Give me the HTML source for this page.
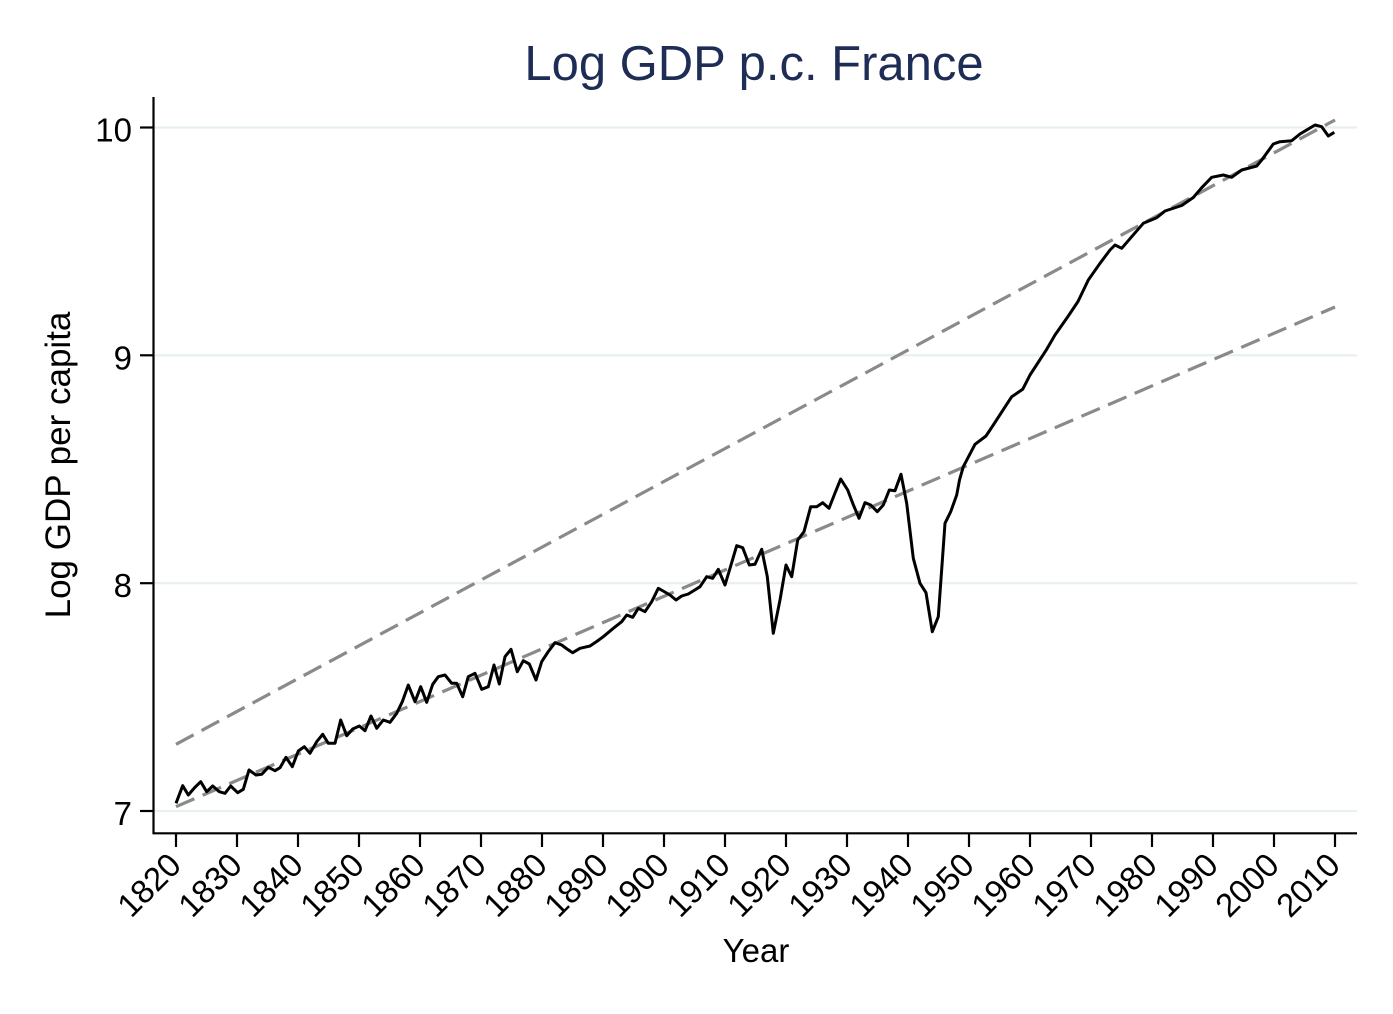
<!DOCTYPE html>
<html>
<head>
<meta charset="utf-8">
<style>
html,body{margin:0;padding:0;background:#fff;}
svg{display:block;}
text{font-family:"Liberation Sans",Arial,Helvetica,sans-serif;}
</style>
</head>
<body>
<svg width="1393" height="1014" viewBox="0 0 1393 1014" xmlns="http://www.w3.org/2000/svg">
<rect x="0" y="0" width="1393" height="1014" fill="#ffffff"/>
<!-- title -->
<text x="754" y="80" font-size="49" fill="#1e2d55" text-anchor="middle">Log GDP p.c. France</text>
<!-- gridlines -->
<g stroke="#e8efef" stroke-width="2.2">
<line x1="154" y1="127.5" x2="1357" y2="127.5"/>
<line x1="154" y1="355.3" x2="1357" y2="355.3"/>
<line x1="154" y1="583.2" x2="1357" y2="583.2"/>
<line x1="154" y1="811" x2="1357" y2="811"/>
</g>
<!-- axes -->
<g stroke="#000" stroke-width="2.2">
<line x1="153.5" y1="97" x2="153.5" y2="834"/>
<line x1="152.5" y1="833.3" x2="1357" y2="833.3"/>
<line x1="140" y1="127.5" x2="153.5" y2="127.5"/>
<line x1="140" y1="355.3" x2="153.5" y2="355.3"/>
<line x1="140" y1="583.2" x2="153.5" y2="583.2"/>
<line x1="140" y1="811" x2="153.5" y2="811"/>
</g>
<g stroke="#000" stroke-width="2.2">
<line x1="176" y1="833" x2="176" y2="847"/>
<line x1="237" y1="833" x2="237" y2="847"/>
<line x1="298" y1="833" x2="298" y2="847"/>
<line x1="359" y1="833" x2="359" y2="847"/>
<line x1="420" y1="833" x2="420" y2="847"/>
<line x1="481" y1="833" x2="481" y2="847"/>
<line x1="542" y1="833" x2="542" y2="847"/>
<line x1="603" y1="833" x2="603" y2="847"/>
<line x1="664" y1="833" x2="664" y2="847"/>
<line x1="725" y1="833" x2="725" y2="847"/>
<line x1="786" y1="833" x2="786" y2="847"/>
<line x1="847" y1="833" x2="847" y2="847"/>
<line x1="908" y1="833" x2="908" y2="847"/>
<line x1="969" y1="833" x2="969" y2="847"/>
<line x1="1030" y1="833" x2="1030" y2="847"/>
<line x1="1091" y1="833" x2="1091" y2="847"/>
<line x1="1152" y1="833" x2="1152" y2="847"/>
<line x1="1213" y1="833" x2="1213" y2="847"/>
<line x1="1274" y1="833" x2="1274" y2="847"/>
<line x1="1335" y1="833" x2="1335" y2="847"/>
</g>
<!-- y tick labels -->
<g font-size="33" fill="#000" text-anchor="end">
<text x="132" y="141.5">10</text>
<text x="132" y="369.5">9</text>
<text x="132" y="597">8</text>
<text x="132" y="825">7</text>
</g>
<!-- x tick labels -->
<g font-size="33" fill="#000" text-anchor="end">
<text transform="translate(183,867) rotate(-45)">1820</text>
<text transform="translate(244,867) rotate(-45)">1830</text>
<text transform="translate(305,867) rotate(-45)">1840</text>
<text transform="translate(366,867) rotate(-45)">1850</text>
<text transform="translate(427,867) rotate(-45)">1860</text>
<text transform="translate(488,867) rotate(-45)">1870</text>
<text transform="translate(549,867) rotate(-45)">1880</text>
<text transform="translate(610,867) rotate(-45)">1890</text>
<text transform="translate(671,867) rotate(-45)">1900</text>
<text transform="translate(732,867) rotate(-45)">1910</text>
<text transform="translate(793,867) rotate(-45)">1920</text>
<text transform="translate(854,867) rotate(-45)">1930</text>
<text transform="translate(915,867) rotate(-45)">1940</text>
<text transform="translate(976,867) rotate(-45)">1950</text>
<text transform="translate(1037,867) rotate(-45)">1960</text>
<text transform="translate(1098,867) rotate(-45)">1970</text>
<text transform="translate(1159,867) rotate(-45)">1980</text>
<text transform="translate(1220,867) rotate(-45)">1990</text>
<text transform="translate(1281,867) rotate(-45)">2000</text>
<text transform="translate(1342,867) rotate(-45)">2010</text>
</g>
<!-- axis titles -->
<text x="756" y="962" font-size="33" fill="#000" text-anchor="middle">Year</text>
<text transform="translate(70,465) rotate(-90)" font-size="35" fill="#000" text-anchor="middle">Log GDP per capita</text>
<!-- trend lines -->
<g stroke="#8a8a8a" stroke-width="3.2" stroke-dasharray="20 9" fill="none">
<line x1="176" y1="744.3" x2="1335" y2="120"/>
<line x1="176" y1="806.7" x2="1335" y2="307"/>
</g>
<!-- data -->
<polyline fill="none" stroke="#000" stroke-width="3" stroke-linejoin="round" points="
176,803.3 182.7,785.7 188.3,795 194.3,788 200.7,781.7 206.7,791.7 212.7,786 219.3,791.7 225,793.3 230.7,786 237.7,792.7 243.3,789.3 249,770 256,775 261.7,774.3 268.3,767.3 275,770.7 280,767.7 286,757.3 292.3,766.7 298.3,751 304.3,746.7 310,753.3 316.7,741.7 322.7,734.3 328.3,743.3 335,743.3 340.7,720 346.7,735.7 352.7,729 359.3,726 365,730.7 371,716 376.7,728.3 383.3,720 390,722.3 396.7,713.3 402.3,701.7 408.3,685 415,701.7 420.7,686.7 426.7,702.3 432.7,684.3 438.3,676.7 445,675 451.7,683.3 456.7,683.3 462.7,696.7 468.3,676.7 475,673.3 481.7,689.3 488.3,686.7 494,665 499.3,684 505,656.7 511,649.3 517.3,671.7 523.3,660.7 529.3,664 536,680 541.7,661.7 548,652 555,642.7 561.7,645 567,649 572.7,652.7 580,648.3 590,646 596.7,641.5 603.3,636.7 613.3,628.3 621.7,621.7 626.7,615 632.7,617.3 638.3,608.3 645,611.7 651.7,601.7 658.3,588.3 664,591.5 670,595 676,600 681.7,596 688.3,594 694,590.5 700,586.7 706.7,576.7 712.7,578.3 718.3,569.3 725,585 731,565 736.7,545.7 742.7,547.7 749.3,565 755,564.3 761.7,549.3 767.3,576.7 773.3,633.3 780,600 786,565 791.7,576.7 797.7,540 804,531.7 810.7,506.7 816.7,506.7 822.7,502.7 829,508.3 835,493 840.7,479 847.7,490 853,504 859,518.3 865,502.7 870.7,505 877.3,511.7 883.3,505 889.3,490 895,490.7 901,474.3 906.7,503.3 913.3,558.3 920,583.3 926,592.7 932.3,631.7 938.3,616.7 945,523.3 950.7,511.7 956.7,495 959.5,480 963.3,466.7 975,444.3 986,436 993.3,425 1011.7,396.7 1022.7,389.3 1030,375 1046.7,349.3 1055,335 1068.3,316 1078,301.5 1088.3,280 1100,263.3 1110,250 1115,245 1121.7,248.3 1131.7,236.7 1143.3,223.3 1156.7,217.7 1165,211 1181.7,205.5 1193.3,197.5 1201.7,187.7 1211.7,177.3 1223.3,175 1231.7,177.3 1241.7,170 1256.7,166 1261.7,160 1273.3,144 1280,141.7 1291.7,140.7 1300,134 1315,125 1321.7,126.7 1328.3,136 1334.3,132.3"/>
</svg>
</body>
</html>
